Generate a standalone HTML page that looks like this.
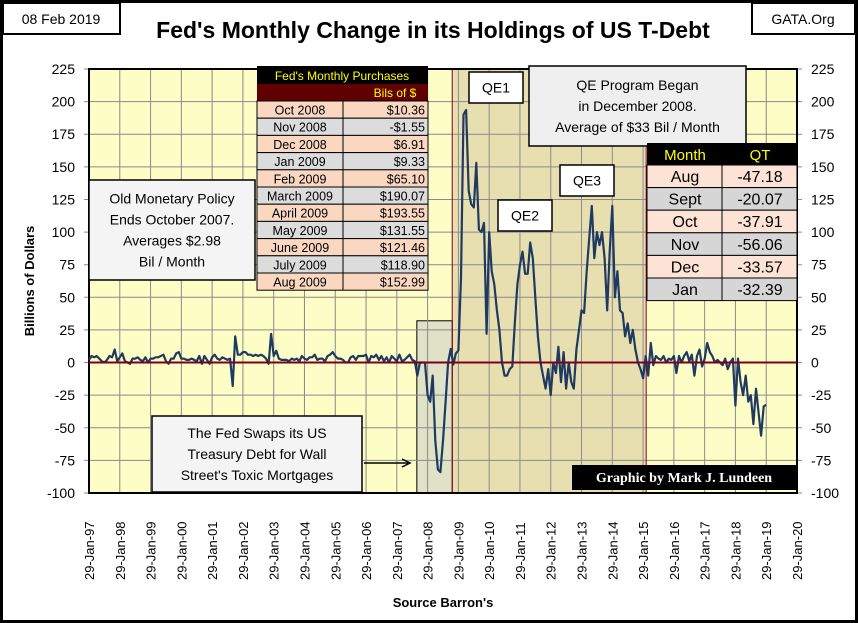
<!DOCTYPE html>
<html><head><meta charset="utf-8"><style>
body{margin:0;background:#fff;}
svg{display:block;font-family:"Liberation Sans",sans-serif;}
</style></head><body>
<svg id="chart" width="858" height="623" viewBox="0 0 858 623">
<rect x="1.5" y="1.5" width="855" height="620" fill="#fff" stroke="#000" stroke-width="3"/>
<rect x="3" y="3" width="117" height="31" fill="#fff" stroke="#000" stroke-width="2"/>
<text x="61" y="24" font-size="14" text-anchor="middle" font-family="Liberation Sans">08 Feb 2019</text>
<rect x="752" y="3" width="103" height="31" fill="#fff" stroke="#000" stroke-width="2"/>
<text x="803" y="24" font-size="14" text-anchor="middle">GATA.Org</text>
<text x="433" y="38" font-size="23" font-weight="bold" text-anchor="middle">Fed's Monthly Change in its Holdings of US T-Debt</text>
<g id="plot"></g>
<text transform="translate(34,281) rotate(-90)" font-size="13" font-weight="bold" text-anchor="middle">Billions  of Dollars</text>
<text x="443" y="607" font-size="13" font-weight="bold" text-anchor="middle">Source Barron's</text>
</svg>
<script>
const yTicks=[225,200,175,150,125,100,75,50,25,0,-25,-50,-75,-100];
const xTickLabels=['29-Jan-97','29-Jan-98','29-Jan-99','29-Jan-00','29-Jan-01','29-Jan-02','29-Jan-03','29-Jan-04','29-Jan-05','29-Jan-06','29-Jan-07','29-Jan-08','29-Jan-09','29-Jan-10','29-Jan-11','29-Jan-12','29-Jan-13','29-Jan-14','29-Jan-15','29-Jan-16','29-Jan-17','29-Jan-18','29-Jan-19','29-Jan-20'];
const startYear=1997;
const monthlyChange=[
2,5,4,5,3,1,0,2,5,4,10,1,
4,7,1,0,-1,3,3,4,2,1,4,0,
3,3,4,4,5,6,1,-1,3,3,7,8,
3,3,2,2,3,2,1,5,-1,5,2,-1,
4,6,3,2,4,3,2,3,-18,20,6,6,
8,8,6,6,5,6,5,6,5,3,-1,22,
5,9,3,2,2,2,1,3,2,3,1,5,
3,2,4,4,6,2,3,3,1,5,6,8,
5,3,3,2,0,0,4,5,2,5,5,5,
6,0,5,4,6,2,5,1,4,0,5,3,
1,6,1,2,4,6,2,1,-10,0,0,0,
-25,-30,-10,-60,-82,-84,-60,-30,0,10.36,-1.55,6.91,
9.33,65.10,190.07,193.55,131.55,121.46,118.90,152.99,102,100,107,22,
100,70,60,40,25,0,-10,-10,-5,-3,30,60,
75,85,68,68,92,80,50,20,0,-10,-20,-5,
-25,0,-8,12,-15,8,-20,0,-15,-20,10,25,
40,38,70,95,120,80,100,90,100,80,40,85,
120,50,70,40,38,20,30,15,25,10,0,-5,
-12,5,-10,15,-2,5,3,2,5,0,3,2,
5,-8,5,0,5,8,1,6,-10,5,10,-3,
3,15,8,5,0,2,0,-2,3,-5,0,3,
-33,3,-15,-25,-10,-30,-25,-47.18,-20.07,-37.91,-56.06,-33.57,
-32.39];
const fedMonths=['Oct 2008','Nov 2008','Dec 2008','Jan 2009','Feb 2009','March 2009','April 2009','May 2009','June 2009','July 2009','Aug 2009'];
const fedValues=['$10.36','-$1.55','$6.91','$9.33','$65.10','$190.07','$193.55','$131.55','$121.46','$118.90','$152.99'];
const qtMonths=['Aug','Sept','Oct','Nov','Dec','Jan'];
const qtValues=['-47.18','-20.07','-37.91','-56.06','-33.57','-32.39'];

const NS='http://www.w3.org/2000/svg';
const g=document.getElementById('plot');
const X0=89,X1=797,Y0=69,Y1=493;
const xs=t=>X0+(t-startYear)*(X1-X0)/23;
const ys=v=>Y1-(v+100)*(Y1-Y0)/325;
function el(tag,attrs,parent){const e=document.createElementNS(NS,tag);for(const k in attrs)e.setAttribute(k,attrs[k]);(parent||g).appendChild(e);return e;}
function txt(x,y,s,attrs){const e=el('text',Object.assign({x:x,y:y},attrs));e.textContent=s;return e;}

let r=el('rect',{x:X0,y:Y0,width:X1-X0,height:Y1-Y0,fill:'#fdfdc6'});


// QE shaded region
r=el('rect',{x:xs(2008.8),y:Y0,width:xs(2015.1)-xs(2008.8),height:Y1-Y0,fill:'#e8dfb0'});


r=el('rect',{x:xs(2007.65),y:ys(32),width:xs(2008.8)-xs(2007.65),height:Y1-ys(32),fill:'#dfe2c6',stroke:'#000','stroke-width':1});


// grid
for(let i=0;i<xTickLabels.length;i++){
  const x=xs(startYear+i);
  let l=el('line',{x1:x,x2:x,y1:Y0,y2:Y1,stroke:'#8a8a8a','stroke-width':1});
  
  
  const t=txt(0,0,xTickLabels[i],{transform:`translate(${x+5},580) rotate(-90)`,'font-size':13,fill:'#000'});
  
  
}
yTicks.forEach(v=>{
  const y=ys(v);
  let l=el('line',{x1:X0-5,x2:X1+5,y1:y,y2:y,stroke:'#8a8a8a','stroke-width':1});
  
  
  let t=txt(75,y+5,String(v),{'font-size':14,'text-anchor':'end'});
  
  
  t=txt(811,y+5,String(v),{'font-size':14});
  
  
});
let l=el('line',{x1:xs(2008.8),x2:xs(2008.8),y1:Y0,y2:Y1,stroke:'#800020','stroke-width':1});


l=el('line',{x1:xs(2015.1),x2:xs(2015.1),y1:Y0,y2:Y1,stroke:'#800020','stroke-width':1});


r=el('rect',{x:X0,y:Y0,width:X1-X0,height:Y1-Y0,fill:'none',stroke:'#000','stroke-width':2});


// series
let d='';
monthlyChange.forEach((v,i)=>{d+=(i?'L':'M')+xs(startYear+i/12).toFixed(1)+','+ys(v).toFixed(1);});
let p=el('path',{d:d,fill:'none',stroke:'#1f3a60','stroke-width':2.2,'stroke-linejoin':'round'});


l=el('line',{x1:X0,x2:X1,y1:ys(0),y2:ys(0),stroke:'#7a0020','stroke-width':2});



// left table
const tg=el('g',{});


el('rect',{x:257,y:66,width:171,height:18,fill:'#000'},tg);
txt(342,80,"Fed's Monthly Purchases",{'font-size':12,fill:'#ffff00','text-anchor':'middle'});
el('rect',{x:257,y:84,width:171,height:17,fill:'#600000'},tg);
txt(395,97,'Bils of $',{'font-size':12,fill:'#ffff00','text-anchor':'middle'});
fedMonths.forEach((m,i)=>{
  const y=101+i*17.2;
  const row=el('g',{},tg);
  
  
  el('rect',{x:257,y:y,width:171,height:17.2,fill:i%2?'#dcdcdc':'#fad7c0',stroke:'#000','stroke-width':1},row);
  el('line',{x1:343,x2:343,y1:y,y2:y+17.2,stroke:'#000'},row);
  txt(300,y+13.5,m,{'font-size':12.5,'text-anchor':'middle'},).remove;
  row.appendChild(g.lastChild);
  txt(425,y+13.5,fedValues[i],{'font-size':12.5,'text-anchor':'end'});
  row.appendChild(g.lastChild);
});

function box(x,y,w,h,lines,name,fs,lh,fill){
  const bg=el('g',{});
  
  
  el('rect',{x:x,y:y,width:w,height:h,fill:fill||'#fff',stroke:'#000','stroke-width':1.5},bg);
  const top=y+h/2-(lines.length-1)*lh/2+fs*0.35;
  lines.forEach((s,i)=>{txt(x+w/2,top+i*lh,s,{'font-size':fs,'text-anchor':'middle'});bg.appendChild(g.lastChild);});
}
box(89,180,166,100,['Old Monetary Policy','Ends October 2007.','Averages $2.98','Bil / Month'],'old-policy-note',14,21,'#f4f4f4');
box(469,72,54,31,['QE1'],'qe1-label',14,20);
box(529,66,217,15+65,['QE Program Began','in December 2008.','Average of $33 Bil / Month'],'qe-program-note',14,21,'#efefef');
box(498,200,54,31,['QE2'],'qe2-label',14,20);
box(560,165,54,31,['QE3'],'qe3-label',14,20);
box(152,416,210,76,['The Fed Swaps its US','Treasury Debt for Wall',"Street's Toxic Mortgages"],'swap-note',14,21,'#f4f4f4');
// arrow
l=el('line',{x1:364,x2:408,y1:463,y2:463,stroke:'#000','stroke-width':1.5});


p=el('path',{d:'M402,459 L410,463 L402,467',fill:'none',stroke:'#000','stroke-width':1.5});



// QT table
const qg=el('g',{});


el('rect',{x:647,y:143,width:150,height:22,fill:'#000'},qg);
txt(685,160,'Month',{'font-size':15,fill:'#ffff00','text-anchor':'middle'});qg.appendChild(g.lastChild);
txt(760,160,'QT',{'font-size':15,fill:'#ffff00','text-anchor':'middle'});qg.appendChild(g.lastChild);
qtMonths.forEach((m,i)=>{
  const y=165+i*22.6;
  const row=el('g',{},qg);
  
  
  el('rect',{x:647,y:y,width:150,height:22.6,fill:i%2?'#d6d6d6':'#fde2d6',stroke:'#000','stroke-width':1},row);
  el('line',{x1:722,x2:722,y1:y,y2:y+22.6,stroke:'#000'},row);
  txt(685,y+17,m,{'font-size':16,'text-anchor':'middle'});row.appendChild(g.lastChild);
  txt(760,y+17,qtValues[i],{'font-size':16,'text-anchor':'middle'});row.appendChild(g.lastChild);
});
// credit
const cg=el('g',{});


el('rect',{x:572,y:465,width:225,height:25,fill:'#000'},cg);
txt(684,482,'Graphic by Mark J. Lundeen',{'font-size':14,'font-weight':'bold',fill:'#fff','text-anchor':'middle','font-family':'Liberation Serif'});cg.appendChild(g.lastChild);
</script>
</body></html>
